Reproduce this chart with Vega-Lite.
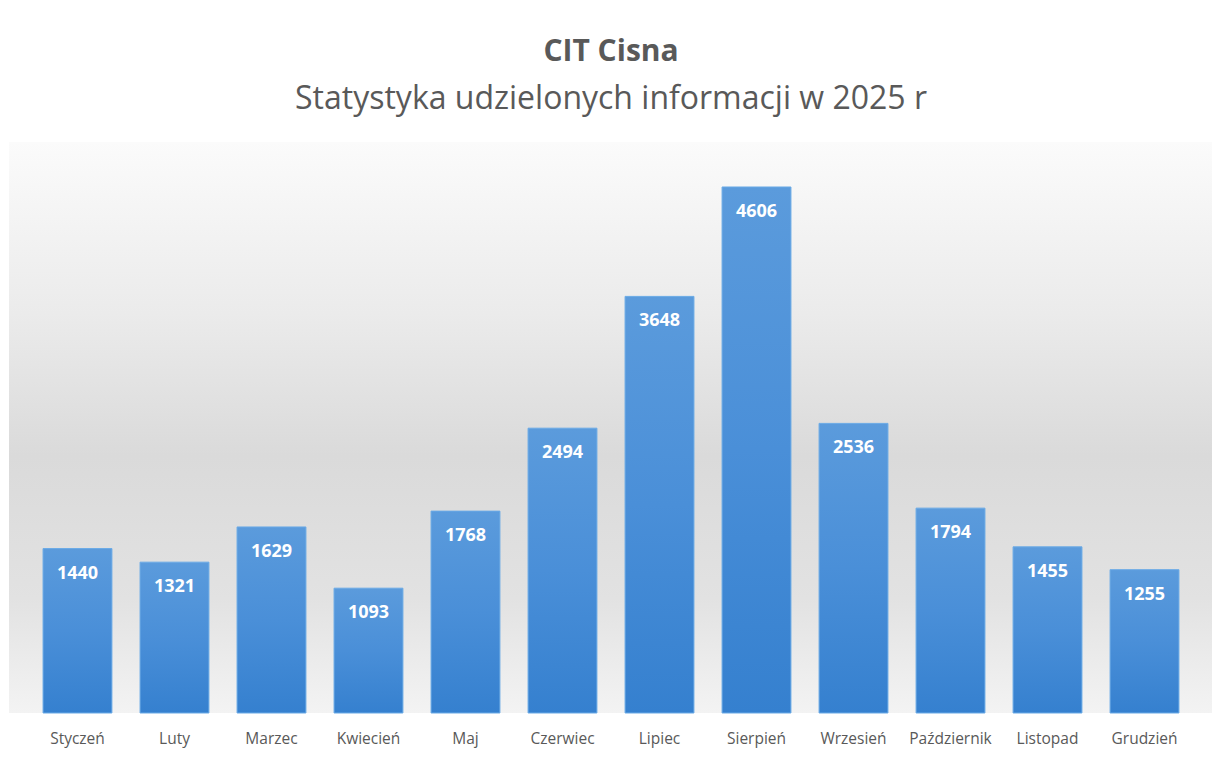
{
  "$schema": "https://vega.github.io/schema/vega-lite/v6.json",
  "width": 1204,
  "height": 571,
  "autosize": {"type": "none"},
  "padding": {"left": 9, "top": 142, "right": 0, "bottom": 45},
  "background": "#ffffff",
  "config": {"view": {"stroke": null}},
  "title": {
    "text": "CIT Cisna",
    "subtitle": "Statystyka udzielonych informacji w 2025 r",
    "anchor": "middle",
    "frame": "group",
    "font": "Open Sans",
    "fontSize": 30,
    "fontWeight": "bold",
    "color": "#595959",
    "subtitleFont": "Open Sans",
    "subtitleFontSize": 32,
    "subtitleColor": "#595959",
    "subtitlePadding": 17,
    "offset": 27
  },
  "datasets": {
    "months": [
      {"miesiac": "Styczeń", "liczba": 1440},
      {"miesiac": "Luty", "liczba": 1321},
      {"miesiac": "Marzec", "liczba": 1629},
      {"miesiac": "Kwiecień", "liczba": 1093},
      {"miesiac": "Maj", "liczba": 1768},
      {"miesiac": "Czerwiec", "liczba": 2494},
      {"miesiac": "Lipiec", "liczba": 3648},
      {"miesiac": "Sierpień", "liczba": 4606},
      {"miesiac": "Wrzesień", "liczba": 2536},
      {"miesiac": "Październik", "liczba": 1794},
      {"miesiac": "Listopad", "liczba": 1455},
      {"miesiac": "Grudzień", "liczba": 1255}
    ],
    "bg": [{"k": 1}]
  },
  "layer": [
    {
      "data": {"name": "bg"},
      "mark": {
        "type": "rect",
        "color": {
          "gradient": "linear",
          "x1": 0, "y1": 0, "x2": 0, "y2": 1,
          "stops": [
            {"offset": 0, "color": "#fbfbfb"},
            {"offset": 0.3, "color": "#ebebeb"},
            {"offset": 0.55, "color": "#dadada"},
            {"offset": 0.8, "color": "#e2e2e2"},
            {"offset": 1, "color": "#f3f3f3"}
          ]
        }
      },
      "encoding": {}
    },
    {
      "data": {"name": "months"},
      "mark": {
        "type": "bar",
        "stroke": "#6aaae6",
        "strokeWidth": 1,
        "color": {
          "gradient": "linear",
          "x1": 0, "y1": 0, "x2": 0, "y2": 1,
          "stops": [
            {"offset": 0, "color": "#5b9bdc"},
            {"offset": 0.5, "color": "#4a8fd8"},
            {"offset": 1, "color": "#3580cf"}
          ]
        }
      },
      "encoding": {
        "x": {
          "field": "miesiac",
          "type": "nominal",
          "sort": null,
          "scale": {"paddingInner": 0.29, "paddingOuter": 0.351},
          "axis": {
            "title": null,
            "domain": false,
            "ticks": false,
            "labelAngle": 0,
            "labelFont": "Open Sans",
            "labelFontSize": 15.5,
            "labelColor": "#595959",
            "labelPadding": 18
          }
        },
        "y": {
          "field": "liczba",
          "type": "quantitative",
          "scale": {"domain": [0, 5000], "nice": false},
          "axis": null
        }
      }
    },
    {
      "data": {"name": "months"},
      "mark": {
        "type": "text",
        "baseline": "middle",
        "dy": 25,
        "font": "Open Sans",
        "fontSize": 18,
        "fontWeight": "bold",
        "color": "#ffffff"
      },
      "encoding": {
        "x": {"field": "miesiac", "type": "nominal", "sort": null},
        "y": {"field": "liczba", "type": "quantitative"},
        "text": {"field": "liczba", "type": "quantitative", "format": "d"}
      }
    }
  ]
}
